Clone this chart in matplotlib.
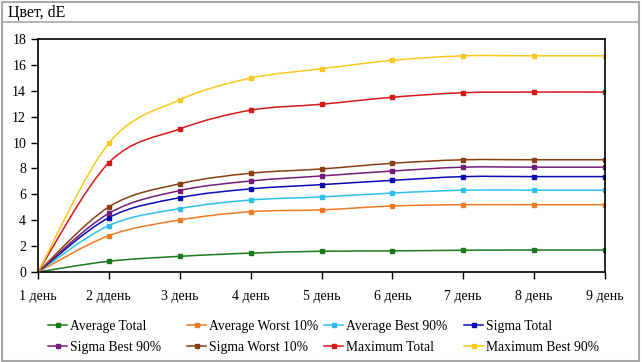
import numpy as np
import matplotlib.pyplot as plt
from matplotlib.path import Path
from matplotlib.patches import PathPatch, Rectangle
from matplotlib.lines import Line2D

plt.rcParams['font.family'] = ['Liberation Serif', 'DejaVu Serif']

days = ['1 день', '2 ддень', '3 день', '4 день', '5 день', '6 день', '7 день', '8 день', '9 день']

average_total = [0, 0.83, 1.21, 1.46, 1.60, 1.63, 1.68, 1.70, 1.70]
average_worst10 = [0, 2.81, 4.02, 4.66, 4.80, 5.10, 5.20, 5.20, 5.20]
average_best90 = [0, 3.59, 4.90, 5.56, 5.80, 6.10, 6.32, 6.32, 6.32]
sigma_total = [0, 4.20, 5.74, 6.42, 6.75, 7.08, 7.37, 7.37, 7.37]
sigma_best90 = [0, 4.53, 6.29, 7.03, 7.42, 7.80, 8.10, 8.10, 8.10]
sigma_worst10 = [0, 5.03, 6.82, 7.63, 7.96, 8.40, 8.67, 8.67, 8.67]
maximum_total = [0, 8.45, 11.05, 12.50, 12.96, 13.50, 13.85, 13.90, 13.90]
maximum_best90 = [0, 9.96, 13.30, 14.98, 15.70, 16.35, 16.70, 16.70, 16.70]

series = [
    ('Average Total', average_total, '#1a7a1a'),
    ('Average Worst 10%', average_worst10, '#f07a22'),
    ('Average Best 90%', average_best90, '#2ec0ea'),
    ('Sigma Total', sigma_total, '#0a0ab4'),
    ('Sigma Best 90%', sigma_best90, '#731c7a'),
    ('Sigma Worst 10%', sigma_worst10, '#8a3e12'),
    ('Maximum Total', maximum_total, '#d81818'),
    ('Maximum Best 90%', maximum_best90, '#f8c81e'),
]


def smooth_path(x, y):
    # excel-like smoothed line: bezier segments through the points
    x = np.asarray(x, float)
    y = np.asarray(y, float)
    n = len(x)
    verts = [(x[0], y[0])]
    codes = [Path.MOVETO]
    for i in range(n - 1):
        x0, y0 = (x[i - 1], y[i - 1]) if i > 0 else (x[i], y[i])
        x3, y3 = (x[i + 2], y[i + 2]) if i + 2 < n else (x[i + 1], y[i + 1])
        c1 = (x[i] + (x[i + 1] - x0) / 6, y[i] + (y[i + 1] - y0) / 6)
        c2 = (x[i + 1] - (x3 - x[i]) / 6, y[i + 1] - (y3 - y[i]) / 6)
        verts += [c1, c2, (x[i + 1], y[i + 1])]
        codes += [Path.CURVE4] * 3
    return Path(verts, codes)


fig = plt.figure(figsize=(6.42, 3.62), dpi=100)
ax = fig.add_axes([38 / 642, 1 - 272 / 362, (605 - 38) / 642, (272 - 39) / 362])

xs = np.arange(len(days))
handles = []
for name, vals, color in series:
    ax.add_patch(PathPatch(smooth_path(xs, vals), fill=False, edgecolor=color, lw=1.1))
    ax.plot(xs, vals, linestyle='none', marker='s', markersize=3.2, color=color)
    handles.append(Line2D([], [], color=color, lw=1.1, marker='s', markersize=3.2, label=name))

ax.set_xlim(0, len(days) - 1)
ax.set_ylim(0, 18)
ax.set_yticks(range(0, 19, 2))
ax.set_xticks(xs)
ax.set_xticklabels(days)
ax.tick_params(labelsize=10, length=5, width=1, color='black', direction='out')
ax.tick_params(axis='x', pad=8)
for s in ax.spines.values():
    s.set_linewidth(1.2)

# title and frame lines
fig.text(8 / 642, 1 - 13 / 362, 'Цвет, dE', fontsize=11.5, va='center', ha='left')
fig.add_artist(Line2D([2 / 642, 639 / 642], [1 - 22 / 362, 1 - 22 / 362], color='#a8a8a8', lw=1.2))
fig.add_artist(Rectangle((2 / 642, 1 / 362), 637 / 642, 359 / 362, fill=False,
                         edgecolor='#a8a8a8', lw=1.5, transform=fig.transFigure))

# legend, 4 columns x 2 rows
col_x = [48, 187, 324, 464]
for c in range(4):
    fig.legend(handles=[handles[c], handles[c + 4]], loc='upper left',
               bbox_to_anchor=(col_x[c] / 642, 1 - 320 / 362), frameon=False,
               fontsize=9.8, handlelength=1.4, handletextpad=0.2, labelspacing=0.6,
               borderpad=0, borderaxespad=0)

fig.savefig('out.png', dpi=100)
